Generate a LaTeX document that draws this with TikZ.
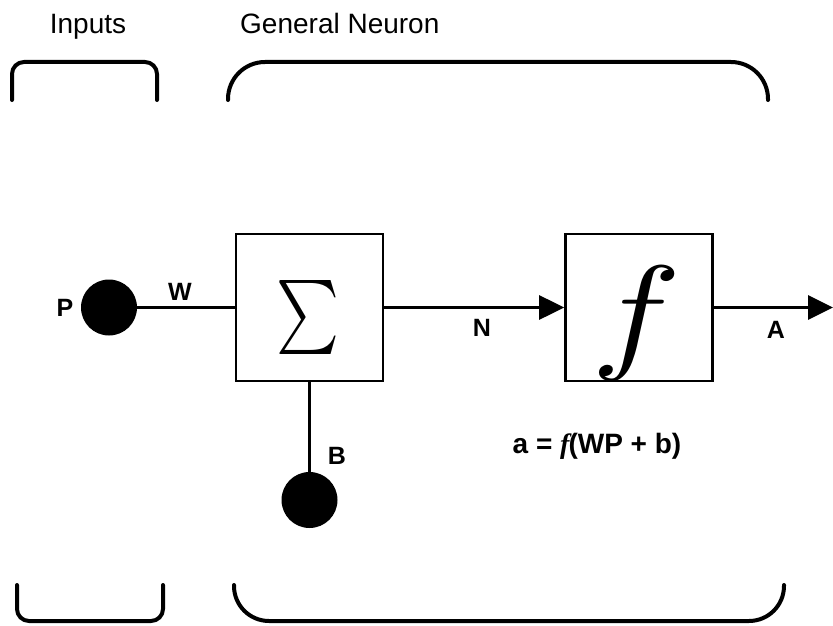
\documentclass[tikz,border=0pt]{standalone}
\usepackage{fontspec}
\setmainfont{Liberation Sans}
\newfontfamily\serifface{Liberation Serif}
\usepackage{graphicx}
\usetikzlibrary{arrows.meta}
\begin{document}
\begin{tikzpicture}[x=1pt,y=-1pt,
  blk/.style={draw,line width=2.6pt,minimum size=147pt,inner sep=0pt},
  dot/.style={circle,fill=black,minimum size=56pt,inner sep=0pt},
  wire/.style={line width=2.8pt},
  brk/.style={line width=4pt,line cap=round},
  lbl/.style={font=\fontsize{25}{27}\selectfont\bfseries,inner sep=0pt},
  ttl/.style={font=\fontsize{28}{30}\selectfont,inner sep=0pt},
  tip/.style={-{Triangle[length=25pt,width=24pt]}}]
\useasboundingbox (0,0) rectangle (833,626);
% titles
\node[ttl,anchor=base] (tin) at (88,34) {Inputs};
\node[ttl,anchor=base west] (tgn) at (240,34) {General Neuron};
% brackets
\draw[brk,rounded corners=12pt] (12,100) -- (12,62) -- (157,62) -- (157,100);
\draw[brk,rounded corners=37pt] (228,100) -- (228,62) -- (768,62) -- (768,100);
\draw[brk,rounded corners=12pt] (17,585) -- (17,621) -- (163,621) -- (163,585);
\draw[brk,rounded corners=35pt] (234,585) -- (234,621) -- (784,621) -- (784,585);
% blocks
\node[blk] (sum) at (309.5,307.5) {};
\node[inner sep=0pt] (sumsym) at (308,317) {\resizebox*{63pt}{74pt}{$\sum$}};
\node[blk] (fbox) at (639,307.5) {};
\node[inner sep=0pt] (fsym) at (637,323) {\resizebox*{90pt}{114pt}{$f$}};
% dots
\node[dot] (P) at (109,307.5) {};
\node[dot] (B) at (309.5,500) {};
\coordinate (out) at (833,307.5);
% connectors
\draw[wire] (P) -- (sum.west);
\draw[wire] (sum.south) -- (B.north);
\draw[wire,tip] (sum.east) -- (fbox.west);
\draw[wire,tip] (fbox.east) -- (out);
% labels
\node[lbl] (lP) at (65,308) {P};
\node[lbl] (lW) at (180,292) {W};
\node[lbl] (lN) at (482,328) {N};
\node[lbl] (lA) at (776,330) {A};
\node[lbl] (lB) at (337,456) {B};
\node[lbl,font=\fontsize{28}{30}\selectfont\bfseries,anchor=base] (eq) at (597,453)
  {a = {\serifface\bfseries\itshape f\kern-1pt}(WP + b)};
\end{tikzpicture}
\end{document}
